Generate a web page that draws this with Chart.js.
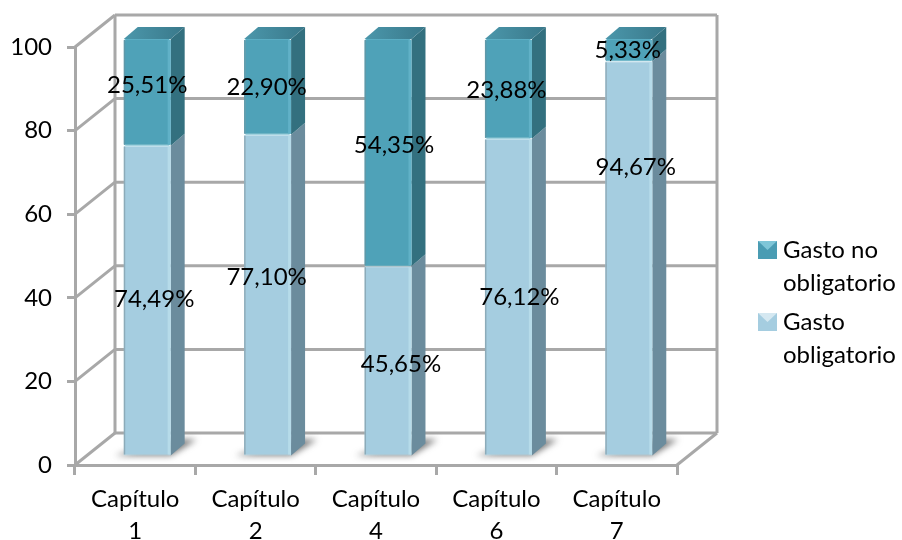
<!DOCTYPE html>
<html lang="es">
<head>
<meta charset="utf-8">
<title>Gasto por capítulo</title>
<style>
  html, body { margin: 0; padding: 0; background: #fff; }
  #wrap { position: relative; width: 902px; height: 540px; }
</style>
<script src="https://cdn.jsdelivr.net/npm/chart.js@4/dist/chart.umd.min.js"></script>
</head>
<body>
<div id="wrap"><canvas id="gasto" width="902" height="540"></canvas></div>
<script>
  var capitulos = [["Capítulo", "1"], ["Capítulo", "2"], ["Capítulo", "4"], ["Capítulo", "6"], ["Capítulo", "7"]];
  var obligatorio = [74.49, 77.10, 45.65, 76.12, 94.67];
  var noObligatorio = [25.51, 22.90, 54.35, 23.88, 5.33];
  var yTicks = [0, 20, 40, 60, 80, 100];
  var legendLines = [["Gasto no", "obligatorio"], ["Gasto", "obligatorio"]];

  // Hand placement of the value labels relative to the middle of their segment.
  var obligatorioNudge = [[7, -1], [-1, -18], [13, 3], [11, 0], [7, -91]];
  var noObligatorioNudge = [[0, -7], [-1, 0], [6, -7], [-2, 1], [-1, 0]];

  var FONT = "Lato, 'Open Sans', sans-serif";
  var FONT_SIZE = 24;
  var WALL = "#a8a8a8";
  var DEPTH_X = 40, DEPTH_Y = -32;   // floor/wall depth of the fake 3D box
  var BAR_X = 12, BAR_Y = -8;        // bars stand halfway into the box
  var SIDE_X = 14, SIDE_Y = -12;     // depth of each bar

  function line(ctx, x1, y1, x2, y2) {
    ctx.beginPath();
    ctx.moveTo(x1, y1);
    ctx.lineTo(x2, y2);
    ctx.stroke();
  }

  function poly(ctx, pts, fill) {
    ctx.beginPath();
    ctx.moveTo(pts[0][0], pts[0][1]);
    for (var i = 1; i < pts.length; i++) ctx.lineTo(pts[i][0], pts[i][1]);
    ctx.closePath();
    ctx.fillStyle = fill;
    ctx.fill();
  }

  // Back wall, side wall and floor, all hung off the real scales.
  var boxPlugin = {
    id: "box",
    beforeDatasetsDraw: function (chart) {
      var ctx = chart.ctx, a = chart.chartArea, y = chart.scales.y;
      ctx.save();
      ctx.strokeStyle = WALL;
      ctx.lineWidth = 3;
      yTicks.forEach(function (t) {
        var py = y.getPixelForValue(t);
        line(ctx, a.left, py, a.left + DEPTH_X, py + DEPTH_Y);
        line(ctx, a.left + DEPTH_X, py + DEPTH_Y, a.right + DEPTH_X, py + DEPTH_Y);
      });
      line(ctx, a.left + DEPTH_X, a.top + DEPTH_Y, a.left + DEPTH_X, a.bottom + DEPTH_Y);
      line(ctx, a.right + DEPTH_X, a.top + DEPTH_Y, a.right + DEPTH_X, a.bottom + DEPTH_Y);
      line(ctx, a.right, a.bottom, a.right + DEPTH_X, a.bottom + DEPTH_Y);
      ctx.restore();

      // soft shadows on the floor
      var base = chart.getDatasetMeta(0).data;
      ctx.save();
      ctx.filter = "blur(3px)";
      base.forEach(function (bar) {
        var l = bar.x - bar.width / 2 + BAR_X, r = l + bar.width, b = bar.base + BAR_Y;
        poly(ctx, [[l - 9, b], [r, b], [r + 26, b - 16], [r, b - 16]], "rgba(95,95,95,0.85)");
      });
      ctx.restore();

      // bars are drawn by the library, shifted into the box
      ctx.save();
      drawBarSides(chart);
      ctx.translate(BAR_X, BAR_Y);
    },
    afterDatasetsDraw: function (chart) {
      chart.ctx.restore();
      drawBarEdges(chart);
    },
    afterDraw: function (chart) {
      drawValueLabels(chart);
      drawLegend(chart);
    }
  };

  function drawBarSides(chart) {
    var ctx = chart.ctx;
    var sideColors = ["#6b8c9d", "#33707f"];
    chart.data.datasets.forEach(function (ds, d) {
      chart.getDatasetMeta(d).data.forEach(function (bar) {
        var r = bar.x + bar.width / 2 + BAR_X;
        var top = bar.y + BAR_Y, bot = bar.base + BAR_Y;
        poly(ctx, [[r, top], [r + SIDE_X, top + SIDE_Y], [r + SIDE_X, bot + SIDE_Y], [r, bot]], sideColors[d]);
        if (d === 1) {
          var l = r - bar.width;
          var g = ctx.createLinearGradient(l, 0, r + SIDE_X, 0);
          g.addColorStop(0, "#4b97ab");
          g.addColorStop(1, "#39788a");
          poly(ctx, [[l, top], [l + SIDE_X, top + SIDE_Y], [r + SIDE_X, top + SIDE_Y], [r, top]], g);
        }
      });
    });
  }

  // Thin grey line down the left of each face, lighter band down the right.
  function drawBarEdges(chart) {
    var ctx = chart.ctx;
    var edges = [["#8cabb9", "#b6dbe9"], ["#5f98a8", "#61b1c7"]];
    chart.data.datasets.forEach(function (ds, d) {
      chart.getDatasetMeta(d).data.forEach(function (bar) {
        var l = bar.x - bar.width / 2 + BAR_X;
        var top = bar.y + BAR_Y, h = bar.base - bar.y;
        ctx.fillStyle = edges[d][0];
        ctx.fillRect(l, top + 1, 1.5, h - 2);
        ctx.fillStyle = edges[d][1];
        ctx.fillRect(l + bar.width - 3, top + 1, 3, h - 2);
      });
    });
  }

  function drawValueLabels(chart) {
    var ctx = chart.ctx;
    var nudges = [obligatorioNudge, noObligatorioNudge];
    ctx.save();
    ctx.font = FONT_SIZE + "px " + FONT;
    ctx.fillStyle = "#000";
    ctx.textAlign = "center";
    ctx.textBaseline = "middle";
    chart.data.datasets.forEach(function (ds, d) {
      chart.getDatasetMeta(d).data.forEach(function (bar, i) {
        var text = ds.data[i].toFixed(2).replace(".", ",") + "%";
        var cx = bar.x + BAR_X + nudges[d][i][0];
        var cy = (bar.y + bar.base) / 2 + BAR_Y + nudges[d][i][1];
        ctx.fillText(text, cx, cy);
      });
    });
    ctx.restore();
  }

  function drawLegend(chart) {
    var ctx = chart.ctx;
    var order = [1, 0];
    var swatches = [["#4a9cb3", "#7fc6d8"], ["#a5cde0", "#d5e8f1"]];
    var tops = [241, 313];
    ctx.save();
    ctx.font = FONT_SIZE + "px " + FONT;
    ctx.textBaseline = "middle";
    order.forEach(function (d, i) {
      var top = tops[i];
      poly(ctx, [[758, top], [777, top], [777, top + 18], [758, top + 18]], swatches[i][0]);
      poly(ctx, [[758, top], [777, top], [767.5, top + 9]], swatches[i][1]);
      ctx.fillStyle = "#000";
      legendLines[i].forEach(function (txt, n) {
        ctx.fillText(txt, 783, top + 9 + n * 33);
      });
    });
    ctx.restore();
  }

  new Chart(document.getElementById("gasto"), {
    type: "bar",
    data: {
      labels: capitulos,
      datasets: [
        {
          label: "Gasto obligatorio",
          data: obligatorio,
          backgroundColor: "#a5cde0",
          borderColor: "#b9dce9",
          borderWidth: 1,
          borderSkipped: false,
          borderRadius: 2,
          barPercentage: 0.39,
          categoryPercentage: 1
        },
        {
          label: "Gasto no obligatorio",
          data: noObligatorio,
          backgroundColor: "#4fa2b8",
          borderColor: "#5aaec4",
          borderWidth: 1,
          borderSkipped: false,
          borderRadius: 2,
          barPercentage: 0.39,
          categoryPercentage: 1
        }
      ]
    },
    options: {
      responsive: false,
      animation: false,
      layout: { padding: { left: 0, right: 225, top: 47, bottom: 0 } },
      plugins: { legend: { display: false }, tooltip: { enabled: false } },
      scales: {
        x: {
          stacked: true,
          afterFit: function (s) { s.height = 75; },
          grid: { drawOnChartArea: false, color: WALL, lineWidth: 3, tickLength: 10 },
          border: { color: WALL, width: 3 },
          ticks: { color: "#000", font: { family: FONT, size: FONT_SIZE, lineHeight: 1.3 }, maxRotation: 0, padding: 9 }
        },
        y: {
          stacked: true,
          min: 0,
          max: 100,
          afterFit: function (s) { s.width = 75; },
          afterBuildTicks: function (s) {
            s.ticks = yTicks.map(function (v) { return { value: v }; });
          },
          grid: { drawOnChartArea: false, color: WALL, lineWidth: 3, tickLength: 8 },
          border: { color: WALL, width: 3 },
          ticks: { color: "#000", font: { family: FONT, size: FONT_SIZE }, padding: 15 }
        }
      }
    },
    plugins: [boxPlugin]
  });
</script>
</body>
</html>
